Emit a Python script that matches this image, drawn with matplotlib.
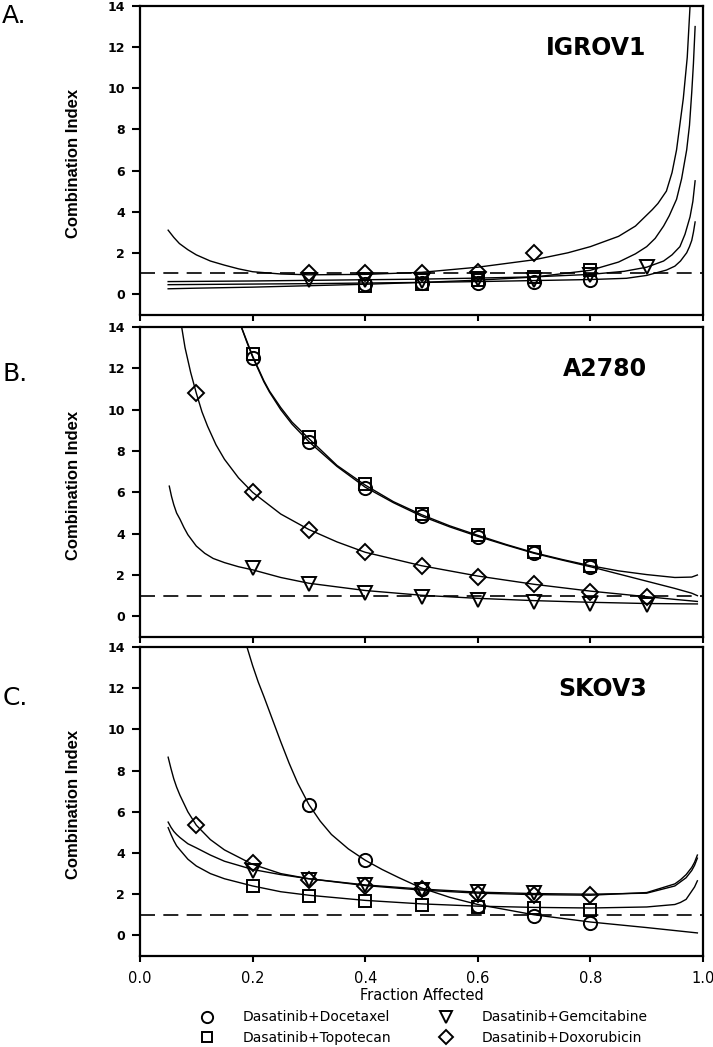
import matplotlib
matplotlib.use("Agg")
import matplotlib.pyplot as plt

# ---------------- data ----------------
labels = ["Dasatinib+Docetaxel", "Dasatinib+Topotecan",
          "Dasatinib+Gemcitabine", "Dasatinib+Doxorubicin"]
cell_lines = ["IGROV1", "A2780", "SKOV3"]
panel_letters = ["A.", "B.", "C."]

# ---- Panel A: IGROV1 ----
A_doc_fa = [0.4, 0.5, 0.6, 0.7, 0.8]
A_doc_ci = [0.5, 0.55, 0.55, 0.6, 0.7]
A_top_fa = [0.4, 0.5, 0.6, 0.7, 0.8]
A_top_ci = [0.4, 0.5, 0.7, 0.8, 1.15]
A_gem_fa = [0.3, 0.4, 0.5, 0.6, 0.7, 0.8, 0.9]
A_gem_ci = [0.7, 0.7, 0.65, 0.75, 0.7, 0.9, 1.3]
A_dox_fa = [0.3, 0.4, 0.5, 0.6, 0.7]
A_dox_ci = [1.0, 1.0, 1.0, 1.05, 2.0]

A_doc_cfa = [0.05, 0.1, 0.2, 0.3, 0.4, 0.5, 0.6, 0.7, 0.8, 0.864, 0.9, 0.935, 0.95, 0.96, 0.971, 0.976, 0.98, 0.983, 0.986]
A_doc_cci = [0.45, 0.46, 0.48, 0.5, 0.53, 0.56, 0.6, 0.65, 0.7, 0.76, 0.9, 1.16, 1.35, 1.6, 2.0, 2.3, 2.6, 3.0, 3.5]
A_top_cfa = [0.05, 0.1, 0.2, 0.3, 0.4, 0.5, 0.6, 0.7, 0.8, 0.85, 0.88, 0.9, 0.915, 0.93, 0.94, 0.953, 0.962, 0.971, 0.976, 0.98, 0.983, 0.986]
A_top_cci = [0.25, 0.28, 0.33, 0.4, 0.47, 0.56, 0.67, 0.82, 1.15, 1.55, 1.95, 2.3, 2.7, 3.3, 3.8, 4.6, 5.6, 7.0, 8.2, 9.8, 11.2, 13.0]
A_gem_cfa = [0.05, 0.1, 0.2, 0.3, 0.4, 0.5, 0.6, 0.7, 0.8, 0.86, 0.9, 0.93, 0.945, 0.959, 0.968, 0.977, 0.982, 0.986]
A_gem_cci = [0.6, 0.61, 0.63, 0.66, 0.69, 0.72, 0.77, 0.83, 0.95, 1.1, 1.3, 1.6, 1.9, 2.3, 2.9, 3.75, 4.5, 5.5]
A_dox_cfa = [0.05, 0.06, 0.07, 0.085, 0.1, 0.125, 0.15, 0.175, 0.2, 0.25, 0.3, 0.4, 0.5, 0.6, 0.7, 0.76, 0.8, 0.85, 0.88, 0.91, 0.92, 0.935, 0.945, 0.953, 0.965, 0.972, 0.977]
A_dox_cci = [3.1, 2.75, 2.45, 2.15, 1.9, 1.6, 1.4, 1.22, 1.08, 0.97, 0.93, 0.95, 1.05, 1.3, 1.66, 2.0, 2.3, 2.8, 3.3, 4.1, 4.4, 5.0, 5.9, 7.0, 9.5, 11.5, 14.0]

# ---- Panel B: A2780 ----
B_doc_fa = [0.2, 0.3, 0.4, 0.5, 0.6, 0.7, 0.8]
B_doc_ci = [12.5, 8.45, 6.2, 4.85, 3.85, 3.05, 2.4]
B_top_fa = [0.2, 0.3, 0.4, 0.5, 0.6, 0.7, 0.8]
B_top_ci = [12.7, 8.7, 6.4, 4.95, 3.95, 3.1, 2.45]
B_gem_fa = [0.2, 0.3, 0.4, 0.5, 0.6, 0.7, 0.8, 0.9]
B_gem_ci = [2.35, 1.55, 1.15, 0.95, 0.8, 0.7, 0.6, 0.55]
B_dox_fa = [0.1, 0.2, 0.3, 0.4, 0.5, 0.6, 0.7, 0.8, 0.9]
B_dox_ci = [10.8, 6.0, 4.2, 3.1, 2.45, 1.9, 1.55, 1.2, 0.95]

B_pair_cfa = [0.18, 0.19, 0.2, 0.21, 0.22, 0.23, 0.25, 0.27, 0.3, 0.35, 0.4, 0.45, 0.5, 0.55, 0.6, 0.65, 0.7, 0.75, 0.8, 0.85, 0.9, 0.95, 0.98, 0.99]
B_doc_cci = [14.0, 13.25, 12.55, 11.95, 11.35, 10.85, 10.0, 9.3, 8.45, 7.25, 6.25, 5.5, 4.85, 4.33, 3.87, 3.45, 3.05, 2.72, 2.4, 2.05, 1.7, 1.35, 1.12, 1.0]
B_top_cci = [14.0, 13.3, 12.6, 12.0, 11.4, 10.9, 10.1, 9.4, 8.6, 7.3, 6.35, 5.55, 4.92, 4.38, 3.92, 3.48, 3.08, 2.75, 2.45, 2.2, 2.02, 1.88, 1.9, 2.0]
B_gem_cfa = [0.052, 0.056, 0.06, 0.065, 0.071, 0.078, 0.085, 0.1, 0.115, 0.13, 0.15, 0.175, 0.2, 0.25, 0.3, 0.4, 0.5, 0.6, 0.7, 0.8, 0.9, 0.99]
B_gem_cci = [6.3, 5.8, 5.4, 5.0, 4.7, 4.3, 3.95, 3.4, 3.05, 2.8, 2.6, 2.4, 2.25, 1.88, 1.6, 1.25, 1.02, 0.87, 0.76, 0.68, 0.62, 0.6]
B_dox_cfa = [0.074, 0.08, 0.09, 0.1, 0.11, 0.12, 0.135, 0.15, 0.175, 0.2, 0.25, 0.3, 0.35, 0.4, 0.5, 0.6, 0.7, 0.8, 0.9, 0.95, 0.99]
B_dox_cci = [14.0, 13.0, 11.8, 10.8, 9.9, 9.2, 8.3, 7.6, 6.7, 6.0, 4.95, 4.2, 3.6, 3.1, 2.45, 1.95, 1.55, 1.22, 0.95, 0.82, 0.72]

# ---- Panel C: SKOV3 ----
C_doc_fa = [0.3, 0.4, 0.5, 0.6, 0.7, 0.8]
C_doc_ci = [6.35, 3.65, 2.25, 1.45, 0.95, 0.6]
C_top_fa = [0.2, 0.3, 0.4, 0.5, 0.6, 0.7, 0.8]
C_top_ci = [2.4, 1.9, 1.65, 1.5, 1.4, 1.35, 1.25]
C_gem_fa = [0.2, 0.3, 0.4, 0.5, 0.6, 0.7]
C_gem_ci = [3.15, 2.7, 2.45, 2.2, 2.1, 2.05]
C_dox_fa = [0.1, 0.2, 0.3, 0.4, 0.5, 0.6, 0.7, 0.8]
C_dox_ci = [5.35, 3.5, 2.7, 2.4, 2.25, 2.0, 1.95, 1.95]

C_doc_cfa = [0.19, 0.2, 0.21, 0.22, 0.235, 0.25, 0.265, 0.28, 0.3, 0.32, 0.34, 0.37, 0.4, 0.43, 0.46, 0.5, 0.55, 0.6, 0.7, 0.8, 0.9, 0.99]
C_doc_cci = [14.0, 13.1, 12.3, 11.6, 10.5, 9.4, 8.35, 7.4, 6.35, 5.55, 4.9, 4.2, 3.65, 3.2, 2.8, 2.3, 1.85, 1.5, 1.0, 0.65, 0.38, 0.12]
C_cfa = [0.05, 0.055, 0.06, 0.065, 0.071, 0.085, 0.1, 0.125, 0.15, 0.2, 0.25, 0.3, 0.4, 0.5, 0.6, 0.7, 0.8, 0.9, 0.95, 0.96, 0.97, 0.98, 0.985, 0.99]
C_dox_cci = [8.65, 8.1, 7.6, 7.2, 6.8, 6.0, 5.35, 4.65, 4.15, 3.45, 3.0, 2.75, 2.42, 2.2, 2.05, 1.98, 1.95, 2.08, 2.5, 2.7, 2.95, 3.3, 3.55, 3.9]
C_gem_cci = [5.5, 5.25, 5.05, 4.9, 4.75, 4.45, 4.25, 3.9, 3.6, 3.2, 2.95, 2.75, 2.45, 2.25, 2.1, 2.03, 2.0, 2.05, 2.4, 2.6, 2.8, 3.15, 3.4, 3.75]
C_top_cci = [5.23, 4.9, 4.6, 4.35, 4.15, 3.7, 3.37, 3.0, 2.75, 2.4, 2.12, 1.95, 1.7, 1.53, 1.42, 1.36, 1.33, 1.38, 1.5, 1.6, 1.75, 2.15, 2.35, 2.65]

x_ticks = [0.0, 0.2, 0.4, 0.6, 0.8, 1.0]
y_ticks = [0, 2, 4, 6, 8, 10, 12, 14]
ci_reference = 1.0

panels = [
    dict(points=[(A_doc_fa, A_doc_ci), (A_top_fa, A_top_ci), (A_gem_fa, A_gem_ci), (A_dox_fa, A_dox_ci)],
         curves=[(A_doc_cfa, A_doc_cci), (A_top_cfa, A_top_cci), (A_gem_cfa, A_gem_cci), (A_dox_cfa, A_dox_cci)]),
    dict(points=[(B_doc_fa, B_doc_ci), (B_top_fa, B_top_ci), (B_gem_fa, B_gem_ci), (B_dox_fa, B_dox_ci)],
         curves=[(B_pair_cfa, B_doc_cci), (B_pair_cfa, B_top_cci), (B_gem_cfa, B_gem_cci), (B_dox_cfa, B_dox_cci)]),
    dict(points=[(C_doc_fa, C_doc_ci), (C_top_fa, C_top_ci), (C_gem_fa, C_gem_ci), (C_dox_fa, C_dox_ci)],
         curves=[(C_doc_cfa, C_doc_cci), (C_cfa, C_top_cci), (C_cfa, C_gem_cci), (C_cfa, C_dox_cci)]),
]

# ---------------- style ----------------
DV = ["DejaVu Sans"]
LIB = ["Liberation Sans", "DejaVu Sans"]
markers = ["o", "s", "v", "D"]
msizes = [9.5, 9, 10, 8]

fig = plt.figure(figsize=(7.13, 10.47), dpi=100)
W, H = 713.0, 1047.0
left, right = 140 / W, 703 / W
tops = [6, 327, 647]
bottoms = [314.5, 637, 956]

handles, labs = None, None
for i, p in enumerate(panels):
    ax = fig.add_axes([left, 1 - bottoms[i] / H, right - left, (bottoms[i] - tops[i]) / H])
    for (cx, cy) in p["curves"]:
        ax.plot(cx, cy, color="black", lw=1.0, solid_joinstyle="round")
    ax.axhline(ci_reference, color="black", lw=1.2, dashes=(9, 5))
    for k, (px, py) in enumerate(p["points"]):
        ax.plot(px, py, linestyle="none", marker=markers[k], ms=msizes[k],
                mfc="none", mec="black", mew=1.4, label=labels[k])
    ax.set_xlim(0, 1.0)
    ax.set_ylim(-1, 14)
    ax.set_xticks(x_ticks)
    ax.set_yticks(y_ticks)
    ax.tick_params(direction="out", length=6, width=1.5, pad=5)
    ax.tick_params(axis="x", length=4.5, pad=6)
    for s in ax.spines.values():
        s.set_linewidth(1.6)
    for t in ax.get_yticklabels():
        t.set_fontfamily(DV)
        t.set_fontweight("bold")
        t.set_fontsize(9)
    if i < 2:
        ax.set_xticklabels([])
    else:
        ax.set_xticklabels([f"{v:.1f}" for v in x_ticks], fontfamily=DV, fontsize=10.5)
        ax.set_xlabel("Fraction Affected", fontfamily=DV, fontsize=10.5, labelpad=1.5)
    ax.set_ylabel("Combination Index", fontfamily=LIB, fontweight="bold", fontsize=12)
    ax.yaxis.set_label_coords(-0.105, 0.49)
    ax.text(0.9, 0.865, cell_lines[i], transform=ax.transAxes, ha="right", va="center",
            fontfamily=DV, fontweight="bold", fontsize=17)
    fig.text(0.003, 1 - [4, 362, 686][i] / H, panel_letters[i], ha="left", va="top",
             fontfamily=DV, fontsize=18)
    if i == 2:
        handles, labs = ax.get_legend_handles_labels()

leg = fig.legend(handles, labs, ncol=2, loc="center left",
                 bbox_to_anchor=(200 / W, 1 - 1027.5 / H),
                 frameon=False, prop={"family": DV, "size": 10},
                 handlelength=1.0, handletextpad=2.1, columnspacing=3.4, labelspacing=0.45,
                 borderpad=0, borderaxespad=0, markerscale=0.85)

fig.savefig("out.png", dpi=100)
